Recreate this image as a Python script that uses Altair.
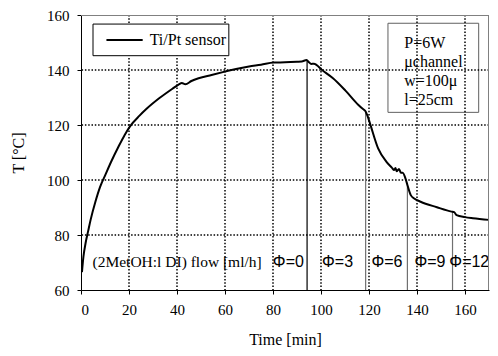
import altair as alt
import pandas as pd

# Temperature curve (Ti/Pt sensor)
time_min = [0.4, 1.0, 1.9, 3.0, 4.0, 6.0, 8.0, 10.1, 12.8, 15.5, 18.2, 20.5, 24.4, 27.2,
            32.7, 38.1, 40.8, 42.0, 43.5, 46.0, 49.0, 54.4, 59.9, 64.6, 70.0, 75.0, 80.3,
            85.0, 90.0, 92.0, 94.0, 95.0, 95.9, 97.0, 100.7, 105.0, 110.2,
            115.6, 117.5, 118.4, 119.3, 120.4, 123.8, 127.2, 129.5, 130.5, 131.0, 131.5,
            132.5, 133.3, 134.0, 135.4, 136.0, 137.4, 139.0, 141.5, 148.3, 154.4, 155.5,
            156.5, 160.0, 163.3, 170.0]
temp_c = [66.5, 72.0, 77.0, 81.5, 85.5, 92.1, 97.6, 101.8, 107.1, 111.9, 116.4, 119.6, 123.4, 125.8,
          129.8, 133.2, 134.8, 135.3, 134.8, 136.0, 137.0, 138.2, 139.4, 140.4, 141.3, 141.9, 142.7,
          142.8, 143.0, 143.1, 143.6, 142.8, 142.2, 142.3, 139.8, 137.0, 132.5,
          127.3, 125.8, 125.2, 123.5, 120.6, 111.5, 106.7, 104.5, 103.6, 104.4, 103.2,
          104.0, 102.6, 102.6, 100.0, 98.2, 94.5, 93.2, 92.1, 90.1, 88.5, 88.3,
          87.2, 86.5, 86.1, 85.5]

# Flow-change markers
change_time = [94.2, 118.6, 136.0, 154.8]
change_temp = [143.6, 125.0, 98.3, 88.4]
change_color = ["#000000", "#707070", "#707070", "#707070"]

# Flow labels
phi_labels = ["Φ=0", "Φ=3", "Φ=6", "Φ=9", "Φ=12"]
phi_x = [86.4, 106.9, 127.5, 145.4, 161.8]

x_ticks = [0, 20, 40, 60, 80, 100, 120, 140, 160]
y_ticks = [60, 80, 100, 120, 140, 160]
x_grid = [20, 40, 60, 80, 100, 120, 140, 160]
y_grid = [80, 100, 120, 140]

SERIF = "Liberation Serif"
SANS = "Liberation Sans"

xs = alt.Scale(domain=[0, 170], nice=False, zero=False)
ys = alt.Scale(domain=[60, 160], nice=False, zero=False)
x_axis = alt.Axis(title="Time [min]", values=x_ticks, grid=False)
y_axis = alt.Axis(title="T [°C]", values=y_ticks, grid=False)

one = pd.DataFrame({"a": [0]})
curve_df = pd.DataFrame({"t": time_min, "T": temp_c})
change_df = pd.DataFrame({"t": change_time, "T": change_temp, "base": [60] * 4, "c": change_color})
phi_df = pd.DataFrame({"t": phi_x, "T": [70.3] * 5, "label": phi_labels})
xgrid_df = pd.DataFrame({"t": x_grid})
ygrid_df = pd.DataFrame({"T": y_grid})


def X(v):
    return alt.datum(v, scale=xs, axis=x_axis)


def Y(v):
    return alt.datum(v, scale=ys, axis=y_axis)


grid_v = alt.Chart(xgrid_df).mark_rule(stroke="#000000", strokeWidth=1.5, strokeDash=[1.5, 1.8],
                                       opacity=1).encode(
    x=alt.X("t:Q", scale=xs, axis=x_axis))
grid_h = alt.Chart(ygrid_df).mark_rule(stroke="#000000", strokeWidth=1.5, strokeDash=[1.5, 1.8],
                                       opacity=1).encode(
    y=alt.Y("T:Q", scale=ys, axis=y_axis))

frame_right = alt.Chart(one).mark_rule(color="#808080", strokeWidth=1, xOffset=-0.5).encode(x=X(170))
frame_top = alt.Chart(one).mark_rule(color="#808080", strokeWidth=1, yOffset=0.5).encode(y=Y(160))

# annotation box (upper right)
box = alt.Chart(one).mark_rect(fill="white", stroke="#606060", strokeWidth=1).encode(
    x=X(127.9), x2=alt.datum(165.7), y=Y(157.0), y2=alt.datum(124.6))
box_text = alt.Chart(one).mark_text(
    align="left", baseline="middle", font=SERIF, fontSize=16, color="black",
    lineHeight=19, lineBreak="\n").encode(
    x=X(134.7), y=Y(149.7), text=alt.value("P=6W\nμchannel\nw=100μ\nl=25cm"))

# legend (upper left)
leg_box = alt.Chart(one).mark_rect(fill="white", stroke="black", strokeWidth=1).encode(
    x=X(5.0), x2=alt.datum(61.6), y=Y(156.7), y2=alt.datum(145.2))
leg_line = alt.Chart(one).mark_rule(color="black", strokeWidth=2).encode(
    x=X(10.6), x2=alt.datum(25.7), y=Y(150.9))
leg_text = alt.Chart(one).mark_text(
    align="left", baseline="middle", font=SERIF, fontSize=16, color="black").encode(
    x=X(28.6), y=Y(150.9), text=alt.value("Ti/Pt sensor"))

changes = alt.Chart(change_df).mark_rule(strokeWidth=1.2).encode(
    x=alt.X("t:Q", scale=xs, axis=x_axis), y=alt.Y("base:Q", scale=ys, axis=y_axis), y2="T:Q",
    color=alt.Color("c:N", scale=None))

curve = alt.Chart(curve_df).mark_line(strokeWidth=2, color="black", interpolate="monotone").encode(
    x=alt.X("t:Q", scale=xs, axis=x_axis),
    y=alt.Y("T:Q", scale=ys, axis=y_axis))

phi_text = alt.Chart(phi_df).mark_text(font=SANS, fontSize=16, color="black", baseline="middle").encode(
    x=alt.X("t:Q", scale=xs, axis=x_axis), y=alt.Y("T:Q", scale=ys, axis=y_axis), text="label:N")

flow_text = alt.Chart(one).mark_text(
    align="left", baseline="middle", font=SERIF, fontSize=15.5, color="black").encode(
    x=X(4.8), y=Y(70.3), text=alt.value("(2MetOH:l DI) flow [ml/h]"))

chart = alt.layer(box, box_text, grid_v, grid_h, changes, curve, phi_text, flow_text,
                  frame_right, frame_top, leg_box, leg_line, leg_text).properties(
    width=408, height=275,
    autosize=alt.AutoSizeParams(type="none"),
    padding={"left": 73, "top": 7, "right": 1, "bottom": 58},
).configure_view(stroke=None).configure_axis(
    domainColor="black", domainWidth=1, tickColor="black", tickSize=4,
    labelFont=SERIF, labelFontSize=15, labelColor="black",
    titleFont=SERIF, titleFontSize=16, titleColor="black", titleFontWeight="normal",
).configure_axisX(labelPadding=8, titlePadding=14).configure_axisY(labelPadding=8, titlePadding=20)

chart.save("out.html", embed_options={"renderer": "svg", "actions": False})
